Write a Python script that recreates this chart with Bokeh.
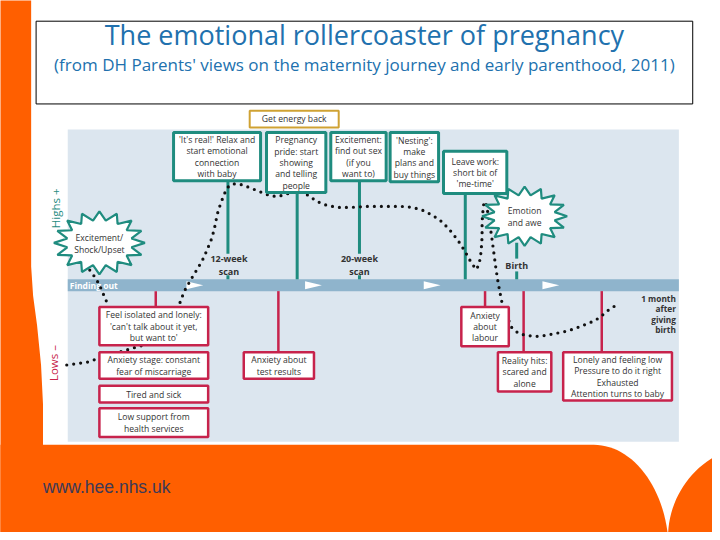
import math
from bokeh.plotting import figure
from bokeh.models import Range1d
from bokeh.core.properties import value
from bokeh.embed import file_html
from bokeh.resources import INLINE

# ---------------- data ----------------
title = "The emotional rollercoaster of pregnancy"
subtitle = "(from DH Parents' views on the maternity journey and early parenthood, 2011)"

high_labels = [
    "'It's real!' Relax and\nstart emotional\nconnection\nwith baby",
    "Pregnancy\npride: start\nshowing\nand telling\npeople",
    "Excitement:\nfind out sex\n(if you\nwant to)",
    "'Nesting':\nmake\nplans and\nbuy things",
    "Leave work:\nshort bit of\n'me-time'",
]
high_x0 = [175, 269, 334, 394, 448]
high_x1 = [263, 329, 390, 443, 512]
high_y0 = [134, 134, 134, 134, 153]
high_y1 = [183, 195, 183, 184, 196]
high_stem_x = [230, 300, 363, 470]
high_stem_top = [183, 195, 183, 196]

low_labels = [
    "Feel isolated and lonely:\n'can't talk about it yet,\nbut want to'",
    "Anxiety stage: constant\nfear of miscarriage",
    "Tired and sick",
    "Low support from\nhealth services",
    "Anxiety about\ntest results",
    "Anxiety\nabout\nlabour",
    "Reality hits:\nscared and\nalone",
    "Lonely and feeling low\nPressure to do it right\nExhausted\nAttention turns to baby",
]
low_x0 = [100, 100, 100, 100, 246, 466, 503, 569]
low_x1 = [210, 210, 210, 210, 317, 514, 557, 679]
low_y0 = [311, 357, 391, 414, 357, 311, 357, 357]
low_y1 = [350, 384, 408, 443, 384, 351, 397, 406]
low_stem_x = [157, 281, 490, 529, 608]
low_stem_bot = [311, 357, 311, 357, 357]

milestones = ["12-week\nscan", "20-week\nscan", "Birth"]
milestone_x = [231, 363, 522]

burst_labels = ["Excitement/\nShock/Upset", "Emotion\nand awe"]
burst_cx = [100, 530]
burst_cy = [246, 219]

# emotional curve (dotted), NaN = break
curve_x = [86, 92, 97, 101, 104, 107, 110, 112, float("nan"),
           67, 74, 81, 88, 94, 100, 110, 120, 130, 140, 150, 160, 168, 174, 178, 181, 184, 187, 191,
           195, 200, 205, 209, 213, 216, 218, 220, 223, 227, 231, 237, 244, 252, 262, 272, 280, 288,
           296, 305, 313, 320, 330, 341, 355, 370, 390, 405, 417, 427, 437, 447, 457, 465, 471, 476,
           481, 484, 486, 487, 487, 488, 489, 491, 493, 495, 497, 499, 501, 503, 505, 507, 512, 517,
           524, 532, 541, 551, 561, 571, 581, 591, 601, 608, 615, 623]
curve_y = [268, 276, 283, 291, 298, 305, 315, 330, float("nan"),
           370, 369, 368, 367, 365, 363, 360, 357, 354, 351, 349, 345, 338, 328, 318, 308, 300, 293, 286,
           279, 271, 262, 253, 243, 233, 223, 214, 205, 195, 188, 186, 187, 190, 194, 198, 199, 197,
           194, 194, 199, 204, 208, 210, 210, 209, 209, 209, 210, 213, 218, 225, 236, 247, 257, 266,
           273, 268, 255, 240, 225, 212, 204, 207, 216, 228, 242, 257, 272, 285, 296, 306, 320, 332,
           338, 340, 341, 340, 338, 336, 333, 329, 325, 320, 314, 309]

# ---------------- styles ----------------
ORANGE = "#FF5F00"
TEAL = "#1F8C7F"
RED = "#C7234C"
PANEL = "#DCE6EF"
BAND = "#8FB4CC"
TXT = "#333333"
FONT = value("Open Sans")
FS = "8.6px"

p = figure(width=712, height=532, x_range=Range1d(0, 720), y_range=Range1d(540, 0),
           output_backend="svg", toolbar_location=None, min_border=0,
           x_axis_location=None, y_axis_location=None)
p.grid.visible = False
p.outline_line_color = None
p.background_fill_color = "white"
p.border_fill_color = "white"

# ---- slide frame decorations ----
p.patch([-5, 31, 31, 33, 37, 41, 43, 43, -5], [-5, -5, 270, 300, 330, 370, 410, 545, 545],
        color=ORANGE, line_width=0)
ts = [-math.pi / 2 + i * (math.pi / 2) / 30 for i in range(31)]
bx = [-5, 600] + [600 + 76 * math.cos(t) for t in ts] + [676, -5]
by = [451, 451] + [561 + 110 * math.sin(t) for t in ts] + [600, 600]
p.patch(bx, by, color=ORANGE, line_width=0)
ts2 = [math.pi + i * (math.pi / 2) / 30 for i in range(31)]
rx = [670] + [770 + 95 * math.cos(t) for t in ts2] + [800, 800]
ry = [600] + [545 + 95 * math.sin(t) for t in ts2] + [440, 600]
p.patch(rx, ry, color=ORANGE, line_width=0)

# ---- title box ----
p.quad(left=[36], right=[700], top=[21], bottom=[105], fill_color="white",
       line_color="black", line_width=1)
p.text(x=[368], y=[35], text=[title], text_align="center", text_baseline="middle",
       text_font=FONT, text_font_size="27px", text_color="#2171AE")
p.text(x=[368], y=[65], text=[subtitle], text_align="center", text_baseline="middle",
       text_font=FONT, text_font_size="17px", text_color="#2171AE")

# ---- panel and timeline band ----
p.quad(left=[68], right=[686], top=[131], bottom=[448], fill_color=PANEL, line_width=0)
p.quad(left=[68], right=[686], top=[283], bottom=[295], fill_color=BAND, line_width=0)
for ax in [188, 308, 428, 548]:
    p.patch([ax, ax, ax + 17], [285, 293, 289], color="white", line_width=0)
p.text(x=[70], y=[289.5], text=["Finding out"], text_align="left", text_baseline="middle",
       text_font=FONT, text_font_size="8.5px", text_font_style="bold", text_color="white")

# ---- side labels ----
p.text(x=[56], y=[211], text=["Highs +"], angle=math.pi / 2, text_align="center",
       text_baseline="middle", text_font=FONT, text_font_size="11.5px", text_color=TEAL)
p.text(x=[54], y=[368], text=["Lows \u2013"], angle=math.pi / 2, text_align="center",
       text_baseline="middle", text_font=FONT, text_font_size="11.5px", text_color=RED)

# ---- stems ----
p.segment(x0=high_stem_x, x1=high_stem_x, y0=high_stem_top, y1=[283] * len(high_stem_x),
          line_color=TEAL, line_width=3)
p.segment(x0=[milestone_x[2]], x1=[milestone_x[2]], y0=[246], y1=[283], line_color=TEAL, line_width=3)
p.segment(x0=low_stem_x, x1=low_stem_x, y0=[295] * len(low_stem_x), y1=low_stem_bot,
          line_color=RED, line_width=2.5)

# milestone labels with panel-coloured backing
p.quad(left=[x - 19 for x in milestone_x[:2]] + [milestone_x[2] - 12],
       right=[x + 19 for x in milestone_x[:2]] + [milestone_x[2] + 12],
       top=[257, 257, 262], bottom=[279, 279, 275], fill_color=PANEL, line_width=0)
p.text(x=milestone_x, y=[268, 268, 268.5], text=milestones, text_align="center",
       text_baseline="middle", text_font=FONT, text_font_size="9px", text_font_style="bold",
       text_color=TXT, text_line_height=1.0)

# ---- emotional curve ----
p.line(curve_x, curve_y, line_color="#111111", line_width=3.2, line_dash="0 7",
       line_cap="round")

# ---- starbursts ----
def burst(cx, cy, rx_, ry_, n, inner):
    xs, ys = [], []
    for i in range(2 * n):
        a = math.pi * i / n
        r = 1.0 if i % 2 == 0 else inner
        xs.append(cx + rx_ * r * math.cos(a))
        ys.append(cy + ry_ * r * math.sin(a))
    return xs, ys

b1 = burst(burst_cx[0], burst_cy[0], 46, 32, 16, 0.72)
b2 = burst(burst_cx[1], burst_cy[1], 43, 30, 16, 0.72)
p.patches([b1[0], b2[0]], [b1[1], b2[1]], fill_color="white", line_color=TEAL, line_width=2.2)
p.text(x=burst_cx, y=[247, 220], text=burst_labels, text_align="center", text_baseline="middle",
       text_font=FONT, text_font_size=FS, text_color=TXT, text_line_height=1.0)

# ---- high boxes ----
p.quad(left=high_x0, right=high_x1, top=high_y0, bottom=high_y1, fill_color="white",
       line_color=TEAL, line_width=3)
p.text(x=[(a + b) / 2 for a, b in zip(high_x0, high_x1)],
       y=[(a + b) / 2 + 0.5 for a, b in zip(high_y0, high_y1)],
       text=high_labels, text_align="center", text_baseline="middle", text_font=FONT,
       text_font_size=FS, text_color=TXT, text_line_height=0.95)

# get energy back
p.quad(left=[252], right=[342], top=[112], bottom=[129], fill_color="white",
       line_color="#CFA233", line_width=2)
p.text(x=[297], y=[120.5], text=["Get energy back"], text_align="center", text_baseline="middle",
       text_font=FONT, text_font_size=FS, text_color=TXT)

# ---- low boxes ----
p.quad(left=low_x0, right=low_x1, top=low_y0, bottom=low_y1, fill_color="white",
       line_color=RED, line_width=2.5)
p.text(x=[(a + b) / 2 for a, b in zip(low_x0, low_x1)],
       y=[(a + b) / 2 + 0.5 for a, b in zip(low_y0, low_y1)],
       text=low_labels, text_align="center", text_baseline="middle", text_font=FONT,
       text_font_size=FS, text_color=TXT, text_line_height=0.95)

p.text(x=[683], y=[318], text=["1 month\nafter\ngiving\nbirth"], text_align="right",
       text_baseline="middle", text_font=FONT, text_font_size="8.3px", text_font_style="bold",
       text_color=TXT, text_line_height=0.95)

# ---- footer ----
p.text(x=[43], y=[494], text=["www.hee.nhs.uk"], text_align="left", text_baseline="middle",
       text_font=value("Liberation Sans"), text_font_size="17.5px", text_color="#3D3A57")

open("out.html", "w").write(file_html(p, INLINE))
